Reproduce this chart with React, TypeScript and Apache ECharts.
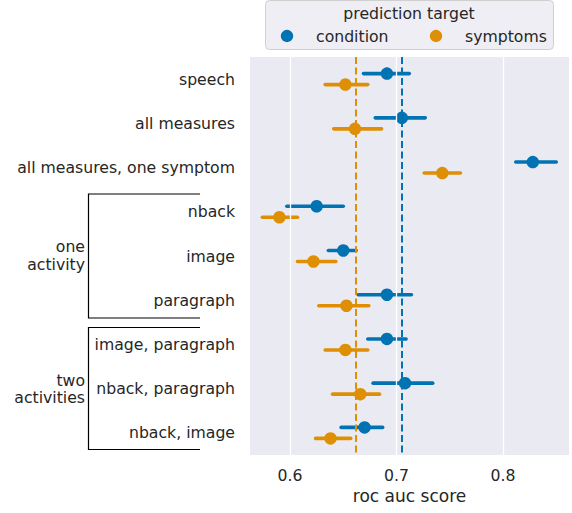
import React, { useEffect, useRef } from "react";
import * as echarts from "echarts";

const categories = [
  "speech",
  "all measures",
  "all measures, one symptom",
  "nback",
  "image",
  "paragraph",
  "image, paragraph",
  "nback, paragraph",
  "nback, image",
];
const conditionMean = [0.691, 0.705, 0.828, 0.625, 0.650, 0.691, 0.691, 0.708, 0.670];
const conditionLo = [0.669, 0.680, 0.812, 0.597, 0.636, 0.664, 0.673, 0.678, 0.648];
const conditionHi = [0.712, 0.727, 0.850, 0.650, 0.662, 0.714, 0.709, 0.734, 0.687];
const symptomsMean = [0.652, 0.661, 0.743, 0.590, 0.622, 0.653, 0.652, 0.666, 0.638];
const symptomsLo = [0.633, 0.641, 0.726, 0.574, 0.607, 0.627, 0.633, 0.640, 0.624];
const symptomsHi = [0.673, 0.686, 0.760, 0.607, 0.643, 0.674, 0.673, 0.684, 0.657];
const conditionRef = 0.705;
const symptomsRef = 0.6615;
const xTicks = [0.6, 0.7, 0.8];

const BLUE = "#0173b2";
const ORANGE = "#de8f05";
const FONT = "DejaVu Sans";
const TXT = "#262626";
const FS = 15.7;

export default function App() {
  const ref = useRef<HTMLDivElement>(null);
  useEffect(() => {
    document.body.style.margin = "0";
    const chart = echarts.init(ref.current!, null, { renderer: "svg" });
    const errSeries = (lo: number[], hi: number[], color: string, off: number, name: string) => ({
      type: "custom",
      name,
      z: 2,
      renderItem: (params: any, api: any) => {
        const c = api.value(0);
        const a = api.coord([api.value(1), c]);
        const b = api.coord([api.value(2), c]);
        return {
          type: "line",
          shape: { x1: a[0], y1: a[1] + off, x2: b[0], y2: b[1] + off },
          style: { stroke: color, lineWidth: 3.6, lineCap: "round" },
        };
      },
      data: categories.map((_, i) => [i, lo[i], hi[i]]),
      encode: { x: [1, 2], y: 0 },
    });
    const dotSeries = (vals: number[], color: string, off: number, name: string) => ({
      type: "scatter",
      name,
      z: 4,
      symbolSize: 12.5,
      symbolOffset: [0, off],
      itemStyle: { color, opacity: 1 },
      data: categories.map((c, i) => [vals[i], c]),
    });
    chart.setOption({
      animation: false,
      textStyle: { fontFamily: FONT },
      grid: { left: 250, top: 57, right: 3, bottom: 58, containLabel: false, backgroundColor: "#eaeaf2", show: true, borderWidth: 0 },
      xAxis: {
        type: "value",
        min: 0.5624,
        max: 0.862,
        axisLine: { show: false },
        axisTick: { show: false },
        splitLine: { show: false },
        axisLabel: {
          customValues: xTicks,
          formatter: (v: number) => v.toFixed(1),
          fontSize: FS,
          color: TXT,
          margin: 12,
          fontFamily: FONT,
        },
        name: "roc auc score",
        nameLocation: "middle",
        nameGap: 32,
        nameTextStyle: { fontSize: 17, color: TXT, fontFamily: FONT },
      },
      yAxis: {
        type: "category",
        data: categories,
        inverse: true,
        axisLine: { show: false },
        axisTick: { show: false },
        splitLine: { show: false },
        axisLabel: { fontSize: FS, color: TXT, margin: 15, fontFamily: FONT },
      },
      series: [
        {
          type: "scatter",
          data: [],
          z: 1,
          markLine: {
            silent: true,
            symbol: "none",
            precision: 5,
            label: { show: false },
            lineStyle: { color: "#ffffff", width: 1.3, type: "solid" },
            data: xTicks.map((v) => ({ xAxis: v })),
          },
        },
        errSeries(conditionLo, conditionHi, BLUE, -5.5, "condition err"),
        errSeries(symptomsLo, symptomsHi, ORANGE, 5.5, "symptoms err"),
        {
          type: "scatter",
          data: [],
          z: 3,
          markLine: {
            silent: true,
            symbol: "none",
            precision: 5,
            label: { show: false },
            data: [
              { xAxis: conditionRef, lineStyle: { color: BLUE, width: 2, type: [7, 3.5] } },
              { xAxis: symptomsRef, lineStyle: { color: ORANGE, width: 2, type: [7, 3.5] } },
            ],
          },
        },
        dotSeries(conditionMean, BLUE, -5.5, "condition"),
        dotSeries(symptomsMean, ORANGE, 5.5, "symptoms"),
      ],
      graphic: [
        {
          type: "rect",
          shape: { x: 265.5, y: 0.5, width: 288, height: 49, r: 4 },
          style: { fill: "#eeeef4", stroke: "#d0d0d0", lineWidth: 1 },
          z: 10,
        },
        {
          type: "text",
          x: 409,
          y: 13,
          style: { text: "prediction target", fontSize: FS, fill: TXT, fontFamily: FONT, align: "center", verticalAlign: "middle" },
          z: 11,
        },
        { type: "circle", shape: { cx: 287, cy: 36, r: 6.2 }, style: { fill: BLUE }, z: 11 },
        {
          type: "text",
          x: 316,
          y: 36,
          style: { text: "condition", fontSize: FS, fill: TXT, fontFamily: FONT, align: "left", verticalAlign: "middle" },
          z: 11,
        },
        { type: "circle", shape: { cx: 436, cy: 36, r: 6.2 }, style: { fill: ORANGE }, z: 11 },
        {
          type: "text",
          x: 465,
          y: 36,
          style: { text: "symptoms", fontSize: FS, fill: TXT, fontFamily: FONT, align: "left", verticalAlign: "middle" },
          z: 11,
        },
        {
          type: "polyline",
          shape: { points: [[200, 194], [88.5, 194], [88.5, 318], [200, 318]] },
          style: { stroke: "#000000", lineWidth: 1.2, fill: null },
        },
        {
          type: "polyline",
          shape: { points: [[200, 327.5], [88.5, 327.5], [88.5, 449.5], [200, 449.5]] },
          style: { stroke: "#000000", lineWidth: 1.2, fill: null },
        },
        {
          type: "text",
          x: 85,
          y: 255.5,
          style: { text: "one\nactivity", fontSize: FS, lineHeight: 17.5, fill: TXT, fontFamily: FONT, align: "right", verticalAlign: "middle" },
        },
        {
          type: "text",
          x: 85,
          y: 389,
          style: { text: "two\nactivities", fontSize: FS, lineHeight: 17.5, fill: TXT, fontFamily: FONT, align: "right", verticalAlign: "middle" },
        },
      ],
    });
    return () => chart.dispose();
  }, []);
  return <div ref={ref} style={{ width: 572, height: 513 }} />;
}
